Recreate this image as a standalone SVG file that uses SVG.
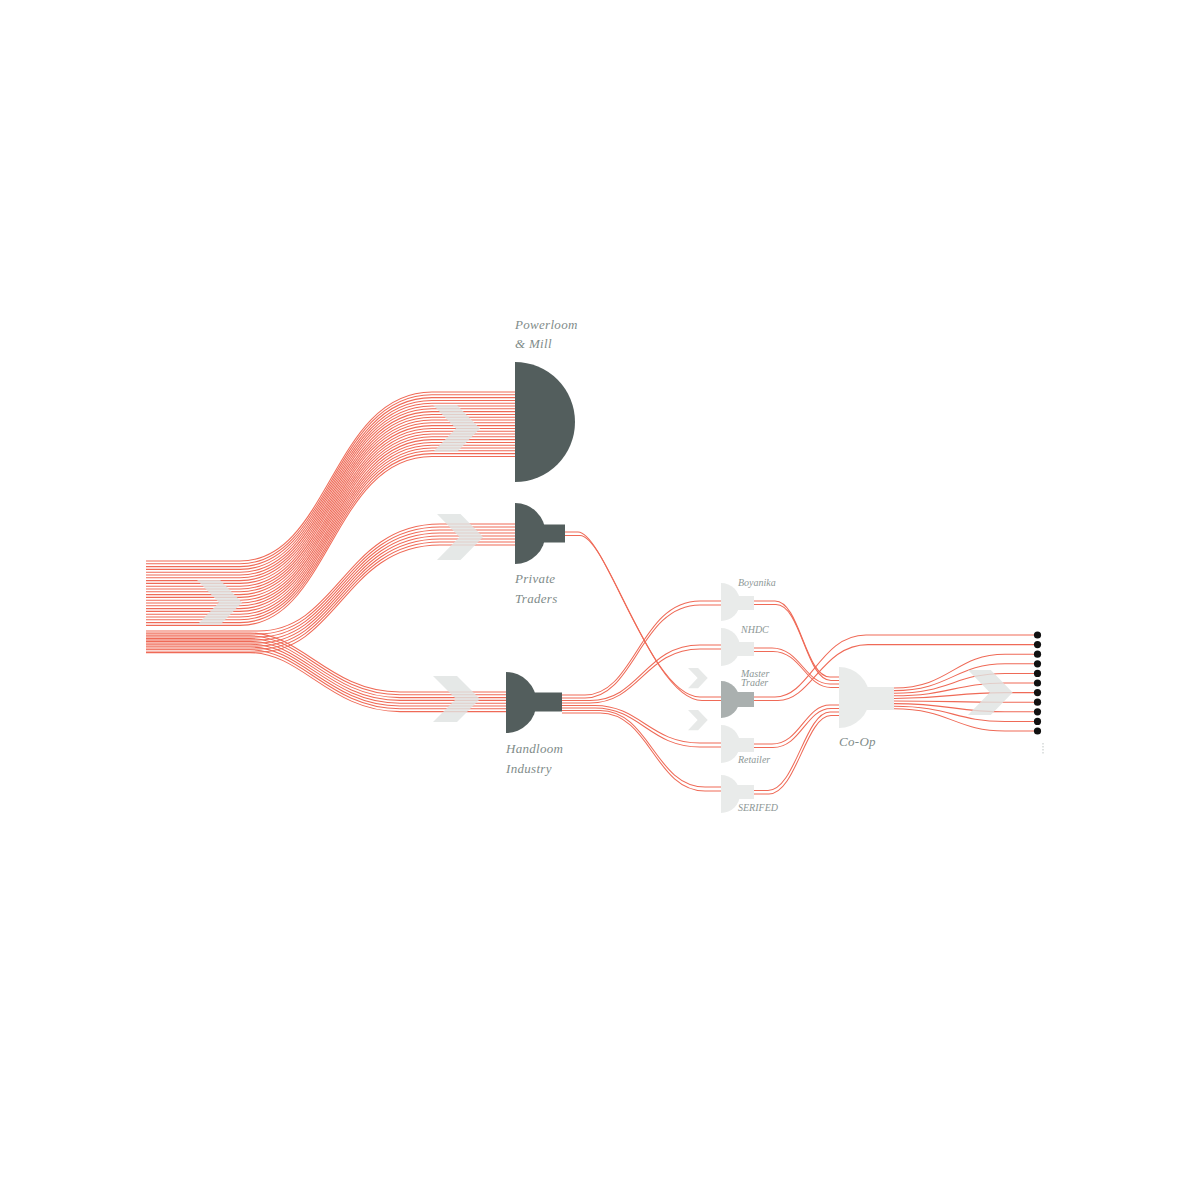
<svg xmlns="http://www.w3.org/2000/svg" xmlns:xlink="http://www.w3.org/1999/xlink" width="1190" height="1190" viewBox="0 0 1190 1190">
<style>
.fl{fill:none;stroke:#ef6a57;stroke-width:1.05}
.dark{fill:#535e5d}
.mid{fill:#aab0af}
.light{fill:#e9ebea}
.chev{fill:#dfe3e2;opacity:0.82}
.chev2{fill:#e7e9e8}
.lb{font-family:"Liberation Serif","Times New Roman",serif;font-style:italic;font-size:13px;fill:#7f8c8a;letter-spacing:0.3px}
.ls{font-family:"Liberation Serif","Times New Roman",serif;font-style:italic;font-size:10px;fill:#8d9796}
.dot{fill:#111}
</style>
<defs>
<path id="pw" class="fl" d="M146,561 H240 C330,561 332,392 432,392 H515"/>
<path id="pt" class="fl" d="M146,631 H258 C338,631 345,524 440,524 H515"/>
<path id="hl" class="fl" d="M146,633 H250 C302,633 330,692 400,692 H506"/>
<polygon id="chv" points="0,0 24,0 47,24 24,48 0,48 23,24"/>
</defs>
<rect width="1190" height="1190" fill="#fff"/>
<g id="connectors">
<g id="to-powerloom">
<use href="#pw"/><use href="#pw" y="2.8"/><use href="#pw" y="5.6"/><use href="#pw" y="8.4"/><use href="#pw" y="11.2"/><use href="#pw" y="14"/><use href="#pw" y="16.8"/><use href="#pw" y="19.6"/><use href="#pw" y="22.4"/><use href="#pw" y="25.2"/><use href="#pw" y="28"/><use href="#pw" y="30.8"/><use href="#pw" y="33.6"/><use href="#pw" y="36.4"/><use href="#pw" y="39.2"/><use href="#pw" y="42"/><use href="#pw" y="44.8"/><use href="#pw" y="47.6"/><use href="#pw" y="50.4"/><use href="#pw" y="53.2"/><use href="#pw" y="56"/><use href="#pw" y="58.8"/><use href="#pw" y="61.6"/><use href="#pw" y="64.4"/>
</g>
<g id="to-private">
<use href="#pt"/><use href="#pt" y="3"/><use href="#pt" y="6"/><use href="#pt" y="9"/><use href="#pt" y="12"/><use href="#pt" y="15"/><use href="#pt" y="18"/><use href="#pt" y="21"/>
</g>
<g id="to-handloom">
<use href="#hl"/><use href="#hl" y="2.8"/><use href="#hl" y="5.6"/><use href="#hl" y="8.4"/><use href="#hl" y="11.2"/><use href="#hl" y="14"/><use href="#hl" y="16.8"/><use href="#hl" y="19.6"/>
</g>
<g id="handloom-out">
<path class="fl" d="M562,695 H585 C635,695 640,601 700,601 H721"/>
<path class="fl" d="M562,698 H585 C635,698 640,605 700,605 H721"/>
<path class="fl" d="M562,700.5 H590 C640,700.5 645,645 700,645 H721"/>
<path class="fl" d="M562,703 H590 C640,703 645,649 700,649 H721"/>
<path class="fl" d="M562,705.5 H595 C640,705.5 650,743 700,743 H721"/>
<path class="fl" d="M562,708 H595 C640,708 650,747 700,747 H721"/>
<path class="fl" d="M562,710.5 H600 C650,710.5 655,787 705,787 H721"/>
<path class="fl" d="M562,713 H600 C650,713 655,791 705,791 H721"/>
</g>
<g id="private-out">
<path class="fl" d="M565,532 H578 C605,532 650,697 700,697 H721"/>
<path class="fl" d="M565,535.5 H580 C607,535.5 652,700.5 702,700.5 H721"/>
</g>
<g id="small-out">
<path class="fl" d="M754,601 H775 C800,601 805,677 830,677 H839"/>
<path class="fl" d="M754,604.5 H776 C801,604.5 806,680.5 831,680.5 H839"/>
<path class="fl" d="M754,648 H772 C800,648 805,684 830,684 H839"/>
<path class="fl" d="M754,651.5 H773 C801,651.5 806,687.5 831,687.5 H839"/>
<path class="fl" d="M754,697 H775 C810,697 820,635 866,635 H1037"/>
<path class="fl" d="M754,700.5 H778 C812,700.5 822,644.6 868,644.6 H1037"/>
<path class="fl" d="M754,744 H772 C800,744 805,705 830,705 H839"/>
<path class="fl" d="M754,747.5 H773 C801,747.5 806,708.5 831,708.5 H839"/>
<path class="fl" d="M754,790.5 H768 C795,790.5 805,712 830,712 H839"/>
<path class="fl" d="M754,794 H769 C796,794 806,715.5 831,715.5 H839"/>
</g>
<g id="coop-out">
<path class="fl" d="M894,688 C950,688 955,654.2 1005,654.2 H1037"/>
<path class="fl" d="M894,690.6 C950,690.6 955,663.8 1005,663.8 H1037"/>
<path class="fl" d="M894,693.2 C950,693.2 955,673.4 1005,673.4 H1037"/>
<path class="fl" d="M894,695.8 C950,695.8 955,683 1005,683 H1037"/>
<path class="fl" d="M894,698.4 C950,698.4 955,692.6 1005,692.6 H1037"/>
<path class="fl" d="M894,701 C950,701 955,702.2 1005,702.2 H1037"/>
<path class="fl" d="M894,703.6 C950,703.6 955,711.8 1005,711.8 H1037"/>
<path class="fl" d="M894,706.2 C950,706.2 955,721.4 1005,721.4 H1037"/>
<path class="fl" d="M894,708.8 C950,708.8 955,731 1005,731 H1037"/>
</g>
</g>
<g id="chevrons">
<use href="#chv" class="chev" transform="translate(197,580) scale(0.96,0.94)"/>
<use href="#chv" class="chev" transform="translate(433,405) scale(1,0.98)"/>
<use href="#chv" class="chev" transform="translate(437,514) scale(0.98,0.96)"/>
<use href="#chv" class="chev" transform="translate(433,676) scale(1,0.96)"/>
<use href="#chv" class="chev" transform="translate(968,670) scale(0.95,0.94)"/>
<use href="#chv" class="chev2" transform="translate(688,668) scale(0.42)"/>
<use href="#chv" class="chev2" transform="translate(688,710) scale(0.42)"/>
</g>
<g id="powerloom">
<path class="dark" d="M515,362 A60,60 0 0 1 515,482 Z"/>
<text class="lb" x="515" y="329">Powerloom</text>
<text class="lb" x="515" y="348">&amp; Mill</text>
</g>
<g id="private-traders">
<path class="dark" d="M515,503 A30.5,30.5 0 0 1 515,564 Z"/>
<rect class="dark" x="540" y="524.5" width="25" height="18"/>
<text class="lb" x="515" y="583">Private</text>
<text class="lb" x="515" y="603">Traders</text>
</g>
<g id="handloom">
<path class="dark" d="M506,672 A30.5,30.5 0 0 1 506,733 Z"/>
<rect class="dark" x="532" y="692.5" width="30" height="19"/>
<text class="lb" x="506" y="753">Handloom</text>
<text class="lb" x="506" y="773">Industry</text>
</g>
<g id="boyanika">
<path class="light" d="M721,583 A19,19 0 0 1 721,621 Z"/>
<rect class="light" x="736" y="596" width="18" height="14"/>
<text class="ls" x="738" y="586">Boyanika</text>
</g>
<g id="nhdc">
<path class="light" d="M721,628 A19,19 0 0 1 721,666 Z"/>
<rect class="light" x="736" y="642" width="18" height="14"/>
<text class="ls" x="741" y="633">NHDC</text>
</g>
<g id="master-trader">
<path class="mid" d="M721,681 A18.5,18.5 0 0 1 721,718 Z"/>
<rect class="mid" x="736" y="692" width="18" height="15"/>
<text class="ls" x="741" y="677">Master</text>
<text class="ls" x="741" y="686">Trader</text>
</g>
<g id="retailer">
<path class="light" d="M721,725 A19,19 0 0 1 721,763 Z"/>
<rect class="light" x="736" y="738" width="18" height="14"/>
<text class="ls" x="738" y="763">Retailer</text>
</g>
<g id="serifed">
<path class="light" d="M721,775 A19,19 0 0 1 721,813 Z"/>
<rect class="light" x="736" y="785" width="18" height="14"/>
<text class="ls" x="738" y="811">SERIFED</text>
</g>
<g id="co-op">
<path class="light" d="M839,667 A30.5,30.5 0 0 1 839,728 Z"/>
<rect class="light" x="865" y="687" width="29" height="23"/>
<text class="lb" x="839" y="746">Co-Op</text>
</g>
<g id="outputs">
<circle class="dot" cx="1037.5" cy="635" r="3.6"/>
<circle class="dot" cx="1037.5" cy="644.6" r="3.6"/>
<circle class="dot" cx="1037.5" cy="654.2" r="3.6"/>
<circle class="dot" cx="1037.5" cy="663.8" r="3.6"/>
<circle class="dot" cx="1037.5" cy="673.4" r="3.6"/>
<circle class="dot" cx="1037.5" cy="683" r="3.6"/>
<circle class="dot" cx="1037.5" cy="692.6" r="3.6"/>
<circle class="dot" cx="1037.5" cy="702.2" r="3.6"/>
<circle class="dot" cx="1037.5" cy="711.8" r="3.6"/>
<circle class="dot" cx="1037.5" cy="721.4" r="3.6"/>
<circle class="dot" cx="1037.5" cy="731" r="3.6"/>
<line x1="1043" y1="743" x2="1043" y2="755" stroke="#bfc5c4" stroke-width="1" stroke-dasharray="1.5,1.5"/>
</g>
</svg>
